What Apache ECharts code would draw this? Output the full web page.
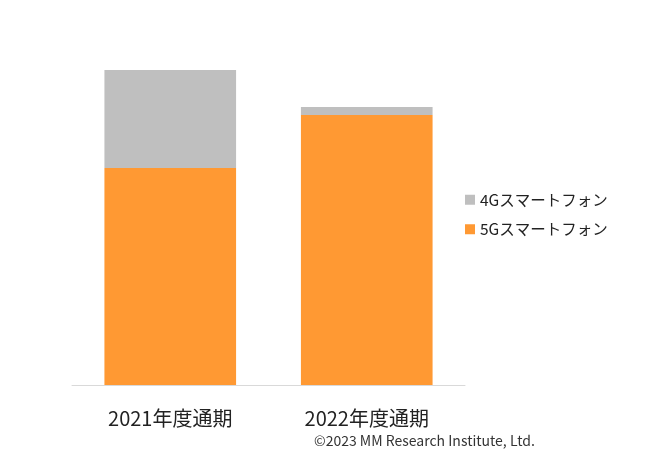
<!DOCTYPE html>
<html><head><meta charset="utf-8">
<script src="https://cdn.jsdelivr.net/npm/echarts@6/dist/echarts.min.js"></script>
<style>html,body{margin:0;padding:0;background:#fff}#c{width:650px;height:465px}</style>
</head><body><div id="c"></div>
<script>
const categories = ['2021年度通期', '2022年度通期'];
const series5G = [2301, 2863];
const series4G = [1039, 85];
const seriesNames = ['5Gスマートフォン', '4Gスマートフォン'];
const FONT = '"Noto Sans CJK JP", "Noto Sans", sans-serif';
const chart = echarts.init(document.getElementById('c'));
chart.setOption({
  animation: false,
  textStyle: { fontFamily: FONT },
  grid: { left: 72, right: 185, top: 70, bottom: 80 },
  legend: {
    orient: 'vertical', left: 460, top: 187,
    data: [seriesNames[1], seriesNames[0]],
    itemWidth: 10, itemHeight: 10, itemGap: 14,
    icon: 'rect',
    textStyle: { fontSize: 15.5, color: '#222', fontFamily: FONT }
  },
  xAxis: {
    type: 'category', data: categories,
    axisLine: { lineStyle: { color: '#D9D9D9', width: 1 } },
    axisTick: { show: false },
    axisLabel: { fontSize: 20, color: '#222', margin: 23, fontFamily: FONT }
  },
  yAxis: {
    type: 'value', min: 0, max: 3340,
    show: false, splitLine: { show: false }
  },
  series: [
    { name: seriesNames[0], type: 'bar', stack: 'a', data: series5G, barCategoryGap: '33%',
      itemStyle: { color: '#FF9933' } },
    { name: seriesNames[1], type: 'bar', stack: 'a', data: series4G, barCategoryGap: '33%',
      itemStyle: { color: '#BFBFBF' } }
  ],
  graphic: [{
    type: 'text', left: 314, top: 434,
    style: { text: '©2023 MM Research Institute, Ltd.', fontSize: 14, fill: '#333', fontFamily: FONT }
  }]
});
</script></body></html>
